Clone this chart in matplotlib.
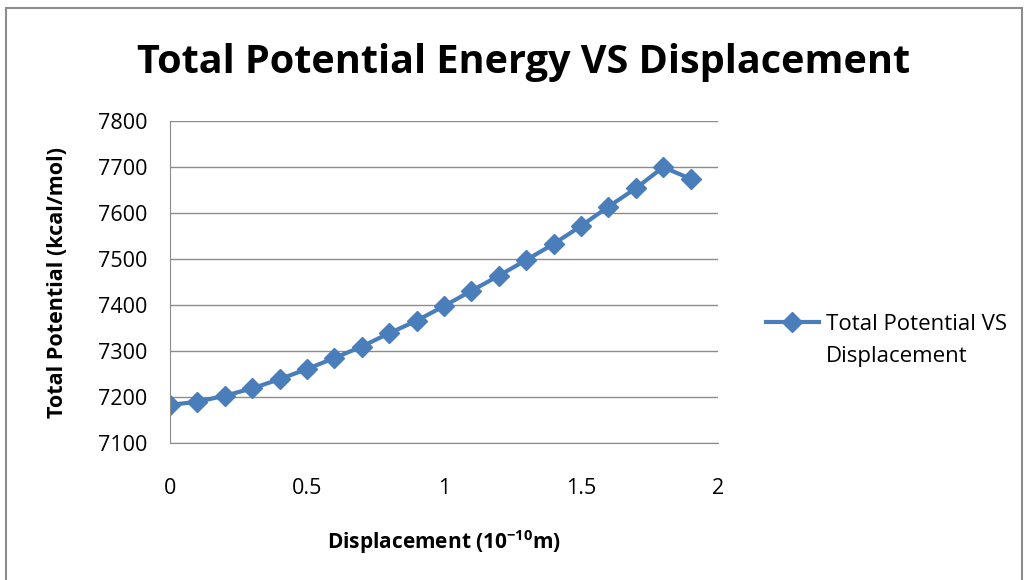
import matplotlib.pyplot as plt
import matplotlib.patches as mpatches

#========data========
displacement = [0.0, 0.1, 0.2, 0.3, 0.4, 0.5, 0.6, 0.7, 0.8, 0.9,
                1.0, 1.1, 1.2, 1.3, 1.4, 1.5, 1.6, 1.7, 1.8, 1.9]
potential = [7183, 7190, 7203, 7219, 7239, 7261, 7285, 7310, 7339, 7366,
             7398, 7431, 7464, 7498, 7533, 7572, 7614, 7654, 7700, 7675]
y_ticks = [7100, 7200, 7300, 7400, 7500, 7600, 7700, 7800]
x_ticks = [0, 0.5, 1, 1.5, 2]
x_ticklabels = ["0", "0.5", "1", "1.5", "2"]
series_name = ["Total Potential VS", "Displacement"]

plt.rcParams['font.family'] = ['Open Sans', 'DejaVu Sans']
plt.rcParams['mathtext.fontset'] = 'custom'
plt.rcParams['mathtext.rm'] = 'Open Sans'
plt.rcParams['mathtext.bf'] = 'Open Sans:bold'

#========plot========
fig = plt.figure(figsize=(10.3, 5.8), dpi=100)
ax = fig.add_axes([0.165, 0.236, 0.532, 0.555])

ax.plot(displacement, potential, color="#4A7EBB", linewidth=3,
        marker="D", markersize=10, label=series_name[0])

ax.set_xlim(0, 2)
ax.set_ylim(7100, 7800)
ax.set_xticks(x_ticks)
ax.set_xticklabels(x_ticklabels)
ax.set_yticks(y_ticks)
ax.tick_params(length=0, labelsize=15.5, pad=16)
ax.tick_params(axis="x", pad=25)
ax.grid(axis="y", color="#8C8C8C", linewidth=1)
ax.set_axisbelow(True)
for s in ["top", "right"]:
    ax.spines[s].set_visible(False)
for s in ["left", "bottom"]:
    ax.spines[s].set_color("#8C8C8C")

ax.set_xlabel(r"Displacement (10$^{\mathbf{-10}}$m)", fontsize=15, fontweight="bold", labelpad=21)
ax.set_ylabel("Total Potential (kcal/mol)", fontsize=15.5, fontweight="bold", labelpad=22)

fig.text(0.508, 0.893, "Total Potential Energy VS Displacement", fontsize=28.5,
         fontweight="bold", ha="center", va="center")

#legend: marker sits on first line, second line underneath (excel style)
leg = ax.legend(loc="center left", bbox_to_anchor=(1.067, 0.37), frameon=False,
                fontsize=16, handlelength=2.4, handletextpad=0.3, borderpad=0)
fig.canvas.draw()
bb = leg.get_texts()[0].get_window_extent()
W, H = fig.bbox.width, fig.bbox.height
fig.text(bb.x0 / W, (bb.y0 - 32) / H, series_name[1], fontsize=16, ha="left", va="bottom")

#chart border
fig.patches.append(mpatches.Rectangle((0.006, -0.01), 0.986, 0.997, transform=fig.transFigure,
                                      fill=False, edgecolor="#8C8C8C", linewidth=1.5))

plt.savefig("out.png", dpi=100)
